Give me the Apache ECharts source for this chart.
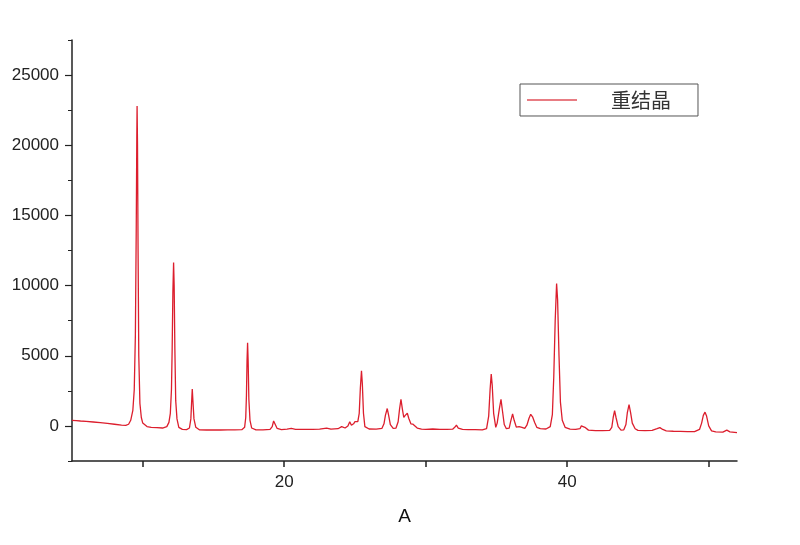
<!DOCTYPE html>
<html>
<head>
<meta charset="utf-8">
<title>重结晶 XRD</title>
<script src="https://cdn.jsdelivr.net/npm/echarts@6/dist/echarts.min.js"></script>
<style>
  html, body { margin: 0; padding: 0; background: #fff; }
  #main { width: 800px; height: 545px; }
</style>
</head>
<body>
<div id="main"></div>
<script>
// 2θ (度) 与强度
var angle = [
  5.0, 5.3, 5.6, 6.0, 6.5, 7.0, 7.5, 8.0, 8.5, 8.8, 9.0, 9.15, 9.3, 9.4, 9.48, 9.54, 9.58, 9.6, 9.63, 9.67,
  9.72, 9.8, 9.9, 10.0, 10.3, 10.6, 11.0, 11.4, 11.7, 11.85, 11.95, 12.03, 12.08, 12.13, 12.18, 12.22, 12.27, 12.33, 12.42, 12.55,
  12.8, 13.1, 13.3, 13.4, 13.45, 13.5, 13.55, 13.62, 13.75, 14.0, 14.5, 15.0, 15.5, 16.0, 16.5, 17.0, 17.2, 17.28, 17.33, 17.37,
  17.41, 17.45, 17.5, 17.58, 17.7, 18.0, 18.5, 19.0, 19.15, 19.25, 19.3, 19.36, 19.5, 19.8, 20.2, 20.5, 20.8, 21.5, 22.0, 22.5,
  23.0, 23.3, 23.8, 24.06, 24.3, 24.5, 24.63, 24.75, 24.9, 25.0, 25.1, 25.2, 25.3, 25.38, 25.46, 25.52, 25.6, 25.7, 26.0, 26.5,
  26.9, 27.05, 27.15, 27.28, 27.38, 27.5, 27.7, 27.9, 28.05, 28.15, 28.25, 28.35, 28.45, 28.55, 28.7, 28.8, 28.95, 29.1, 29.2, 29.4,
  29.7, 30.0, 30.5, 31.0, 31.5, 31.9, 32.05, 32.17, 32.3, 32.6, 33.0, 33.5, 34.0, 34.3, 34.45, 34.55, 34.63, 34.7, 34.8, 34.95,
  35.05, 35.2, 35.32, 35.42, 35.55, 35.7, 35.9, 36.0, 36.14, 36.25, 36.4, 36.6, 36.7, 36.8, 37.0, 37.15, 37.3, 37.42, 37.55, 37.7,
  37.85, 38.1, 38.5, 38.8, 38.95, 39.05, 39.15, 39.25, 39.32, 39.42, 39.52, 39.65, 39.85, 40.2, 40.6, 40.9, 41.0, 41.13, 41.25, 41.5,
  42.0, 42.5, 43.0, 43.15, 43.25, 43.35, 43.45, 43.6, 43.8, 44.0, 44.15, 44.25, 44.37, 44.48, 44.6, 44.8, 45.0, 45.5, 46.0, 46.35,
  46.55, 46.75, 47.0, 47.5, 48.0, 48.5, 49.0, 49.35, 49.5, 49.62, 49.74, 49.85, 50.0, 50.2, 50.5, 51.0, 51.28, 51.5, 52.0
];
var intensity = [
  400, 380, 350, 320, 280, 230, 180, 120, 60, 40, 120, 400, 1100, 2600, 6500, 14000, 20500, 22800, 20000, 12500,
  5000, 1600, 600, 200, -50, -100, -120, -150, -50, 250, 900, 2600, 5500, 9500, 11650, 10000, 5500, 1800, 500, -100,
  -250, -260, -150, 500, 1600, 2620, 1700, 500, -100, -280, -290, -280, -290, -280, -285, -270, -100, 600, 2200, 4600,
  5930, 4600, 1900, 400, -150, -280, -280, -250, -50, 350, 430, 250, -180, -260, -230, -180, -240, -250, -240, -230,
  -150, -230, -200, -50, -150, 0, 290, 50, 150, 300, 360, 300, 900, 2700, 3930, 3000, 900, -50, -220, -230,
  -180, 150, 750, 1240, 750, 100, -180, -150, 300, 1200, 1900, 1200, 600, 750, 900, 550, 150, 120, 100, -150,
  -230, -240, -220, -250, -240, -230, -100, 50, -150, -250, -260, -270, -280, -200, 700, 2600, 3690, 2900, 900, -100,
  200, 1200, 1900, 1100, 100, -200, -150, 300, 860, 400, -80, -50, -120, -100, -180, 50, 550, 830, 650, 250,
  -100, -200, -220, -50, 800, 3500, 7500, 10140, 9000, 5000, 1700, 400, -100, -230, -250, -200, 0, 140, -100, -300,
  -330, -330, -320, -100, 600, 1090, 600, -50, -300, -280, 100, 950, 1520, 950, 200, -200, -320, -330, -320, -200,
  -120, -250, -350, -380, -390, -400, -400, -250, 200, 750, 980, 700, 0, -350, -420, -440, -300, -420, -480
];
var yLabels = [0, 5000, 10000, 15000, 20000, 25000];
var xLabels = [20, 40];
var xTicks = [10, 20, 30, 40, 50];

var points = [];
for (var i = 0; i < angle.length; i++) {
  points.push([angle[i], intensity[i]]);
}

var myChart = echarts.init(document.getElementById('main'));
myChart.setOption({
  animation: false,
  grid: { left: 72, right: 63, top: 40, bottom: 84 },
  legend: {
    left: 520,
    top: 84,
    padding: [6, 27, 6, 7],
    borderColor: '#555',
    borderWidth: 1,
    itemWidth: 50,
    itemHeight: 1.5,
    textStyle: {
      fontSize: 20,
      color: '#333',
      fontFamily: 'Noto Sans CJK SC',
      padding: [0, 0, 0, 29]
    },
    data: [{ name: '重结晶', icon: 'rect' }]
  },
  xAxis: {
    type: 'value',
    min: 5,
    max: 52,
    name: 'A',
    nameLocation: 'middle',
    nameGap: 46,
    nameTextStyle: { fontSize: 19, color: '#111', fontFamily: 'Liberation Sans' },
    axisLine: { show: true, onZero: false, lineStyle: { color: '#222', width: 1.5 } },
    axisTick: { show: true, length: 6, customValues: xTicks, lineStyle: { color: '#222', width: 1.5 } },
    axisLabel: {
      customValues: xLabels,
      margin: 13,
      fontSize: 17,
      color: '#222',
      fontFamily: 'Liberation Sans',
      formatter: function (v) { return String(v); }
    },
    splitLine: { show: false }
  },
  yAxis: [{
    type: 'value',
    min: -2500,
    max: 27500,
    axisLine: { show: true, onZero: false, lineStyle: { color: '#222', width: 1.5 } },
    axisTick: { show: true, length: 7, customValues: yLabels, lineStyle: { color: '#222', width: 1.2 } },
    axisLabel: {
      customValues: yLabels,
      margin: 13,
      fontSize: 17,
      color: '#222',
      fontFamily: 'Liberation Sans',
      formatter: function (v) { return String(v); }
    },
    splitLine: { show: false }
  }, {
    // 次刻度
    type: 'value',
    position: 'left',
    min: -2500,
    max: 27500,
    interval: 2500,
    axisLine: { show: false },
    axisTick: { show: true, length: 4, lineStyle: { color: '#222', width: 1 } },
    axisLabel: { show: false },
    splitLine: { show: false }
  }],
  series: [{
    name: '重结晶',
    type: 'line',
    yAxisIndex: 0,
    data: points,
    showSymbol: false,
    symbol: 'none',
    lineStyle: { color: '#dc1e2d', width: 1.3 },
    itemStyle: { color: '#e0505a' }
  }]
});
</script>
</body>
</html>
